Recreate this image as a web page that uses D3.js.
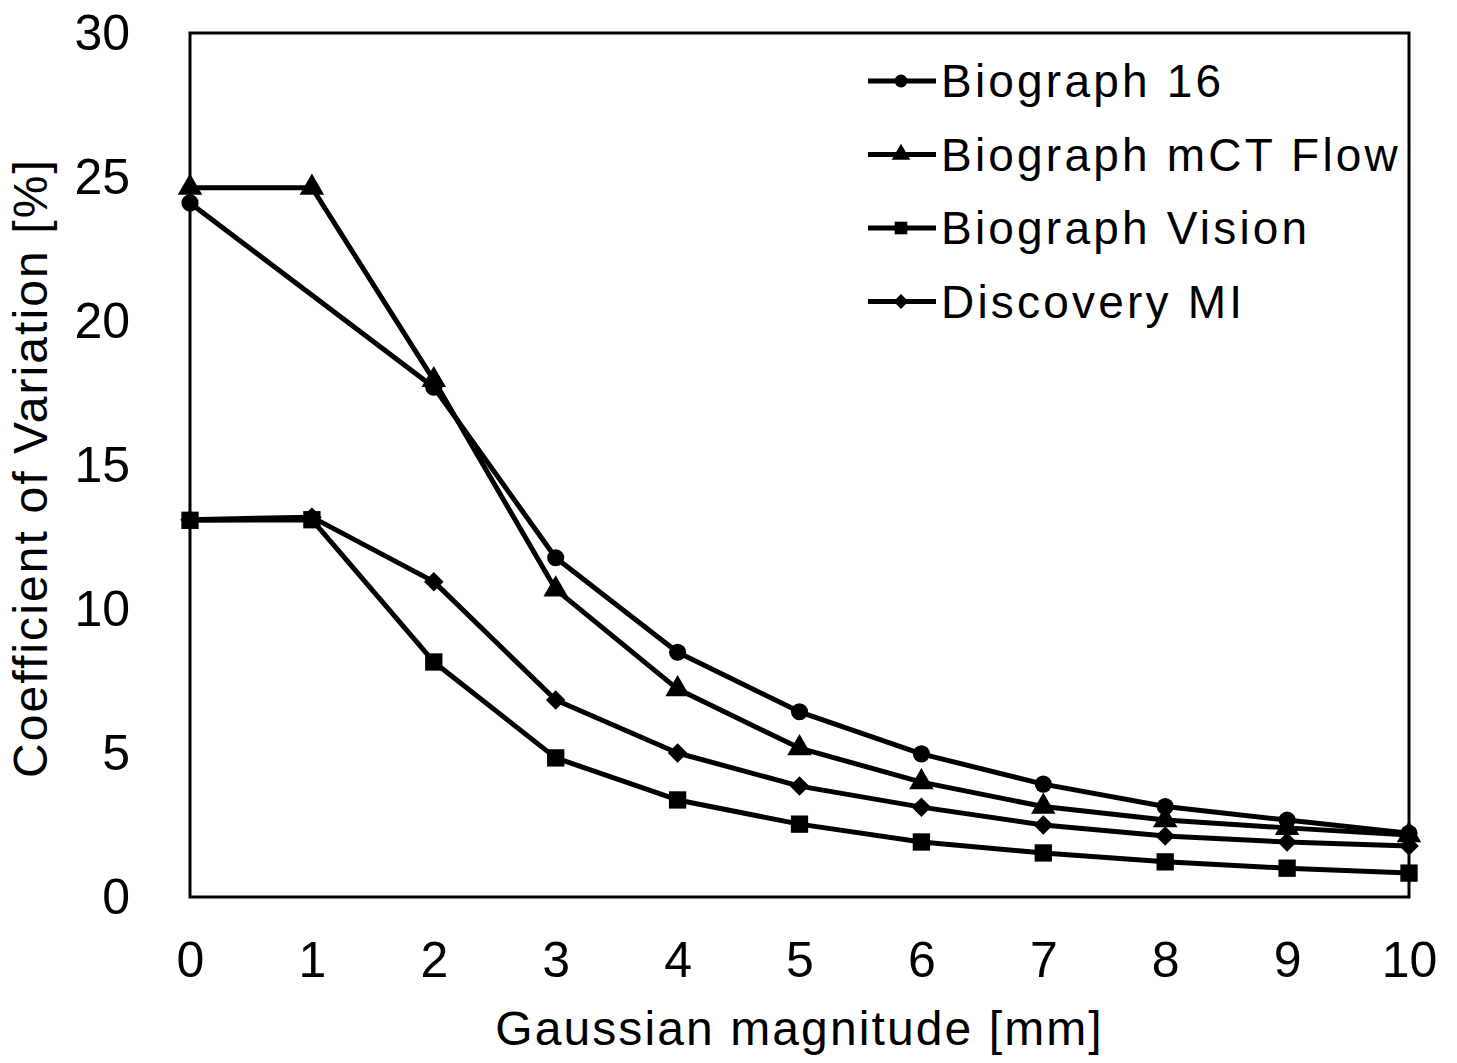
<!DOCTYPE html>
<html>
<head>
    <title>Coefficient of Variation vs Gaussian magnitude</title>
    <script src="https://cdnjs.cloudflare.com/ajax/libs/d3/7.8.5/d3.min.js"></script>
    <style>
        body { margin: 0; background: #fff; }
        text { font-family: "Liberation Sans", Arial, sans-serif; fill: #000; }
        .series-line { fill: none; stroke: #000; stroke-width: 5px; stroke-linejoin: round; }
        .frame { fill: none; stroke: #000; stroke-width: 3px; }
    </style>
</head>
<body>
    <div id="chart"></div>
    <script>
        // Data
        const magnitudes = [0, 1, 2, 3, 4, 5, 6, 7, 8, 9, 10];
        const seriesNames = ["Biograph 16", "Biograph mCT Flow", "Biograph Vision", "Discovery MI"];
        // Biograph 16 has no point at 1 mm (line runs straight from 0 to 2)
        const biograph16 = [24.1, null, 17.7, 11.78, 8.5, 6.43, 4.97, 3.92, 3.14, 2.67, 2.21];
        const mctFlow = [24.63, 24.63, 17.95, 10.68, 7.22, 5.17, 3.99, 3.14, 2.67, 2.4, 2.15];
        const vision = [13.08, 13.1, 8.16, 4.83, 3.37, 2.53, 1.91, 1.53, 1.22, 1.0, 0.83];
        const discoveryMI = [13.1, 13.19, 10.95, 6.84, 5.0, 3.85, 3.12, 2.5, 2.12, 1.91, 1.77];
        const yTicks = [0, 5, 10, 15, 20, 25, 30];

        const seriesValues = [biograph16, mctFlow, vision, discoveryMI];
        // diamond is drawn as a square turned 45 degrees
        const symbols = [d3.symbolCircle, d3.symbolTriangle, d3.symbolSquare, d3.symbolSquare];
        const rotations = [0, 0, 0, 45];
        const symbolSizes = [230, 260, 300, 190];
        const legendSizes = [130, 150, 160, 110];

        const W = 1457, H = 1063;
        const margin = {top: 33, right: 48, bottom: 166, left: 190};
        const width = W - margin.left - margin.right;
        const height = H - margin.top - margin.bottom;

        const svg = d3.select("#chart").append("svg")
            .attr("width", W)
            .attr("height", H);

        const g = svg.append("g")
            .attr("transform", `translate(${margin.left},${margin.top})`);

        const x = d3.scaleLinear().domain([0, 10]).range([0, width]);
        const y = d3.scaleLinear().domain([0, 30]).range([height, 0]);

        // X axis (labels only, no tick marks)
        const xAxis = g.append("g")
            .attr("transform", `translate(0,${height})`)
            .call(d3.axisBottom(x).tickValues(magnitudes).tickSize(0).tickPadding(44));
        xAxis.select(".domain").remove();
        xAxis.selectAll("text").style("font-size", "50px");

        // Y axis
        const yAxis = g.append("g")
            .call(d3.axisLeft(y).tickValues(yTicks).tickSize(0).tickPadding(60));
        yAxis.select(".domain").remove();
        yAxis.selectAll("text").style("font-size", "50px");

        // Plot frame
        g.append("rect")
            .attr("class", "frame")
            .attr("width", width)
            .attr("height", height);

        // Axis titles
        g.append("text")
            .attr("text-anchor", "middle")
            .attr("x", x(5))
            .attr("y", height + 148)
            .style("font-size", "48px")
            .style("letter-spacing", "2.1px")
            .text("Gaussian magnitude [mm]");

        g.append("text")
            .attr("text-anchor", "middle")
            .attr("transform", "rotate(-90)")
            .attr("x", -y(15) - 3)
            .attr("y", -143)
            .style("font-size", "48px")
            .style("letter-spacing", "2.1px")
            .text("Coefficient of Variation [%]");

        const line = d3.line()
            .x(d => x(d.m))
            .y(d => y(d.v));

        seriesValues.forEach((vals, i) => {
            const pts = magnitudes.map((m, j) => ({m: m, v: vals[j]})).filter(d => d.v !== null);
            g.append("path")
                .datum(pts)
                .attr("class", "series-line")
                .attr("d", line);

            g.selectAll(".mark-" + i)
                .data(pts)
                .enter().append("path")
                .attr("class", "mark-" + i)
                .attr("transform", d => `translate(${x(d.m)},${y(d.v)}) rotate(${rotations[i]})`)
                .attr("d", d3.symbol().type(symbols[i]).size(symbolSizes[i]))
                .attr("fill", "#000");
        });

        // Legend
        const legend = svg.append("g")
            .attr("transform", "translate(868,81)");

        seriesNames.forEach((name, i) => {
            const row = legend.append("g")
                .attr("transform", `translate(0,${i * 73.5})`);
            row.append("line")
                .attr("x1", 0).attr("x2", 68)
                .attr("y1", 0).attr("y2", 0)
                .attr("stroke", "#000")
                .attr("stroke-width", 5);
            row.append("path")
                .attr("transform", `translate(33,0) rotate(${rotations[i]})`)
                .attr("d", d3.symbol().type(symbols[i]).size(legendSizes[i]))
                .attr("fill", "#000");
            row.append("text")
                .attr("x", 73)
                .attr("y", 0)
                .attr("dy", "0.35em")
                .style("font-size", "46px")
                .style("letter-spacing", "3.2px")
                .text(name);
        });
    </script>
</body>
</html>
